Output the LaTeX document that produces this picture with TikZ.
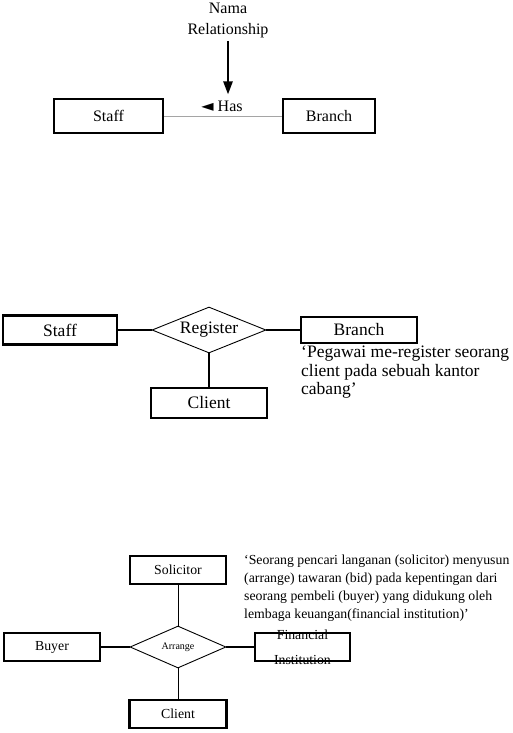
\documentclass[tikz,border=0pt]{standalone}
\usepackage{fontspec}
\setmainfont{Liberation Serif}
\newfontfamily\symfont{DejaVu Sans}
\usepackage{tikz}
\usetikzlibrary{arrows.meta, shapes.geometric}
\definecolor{linegray}{RGB}{165,165,165}
\tikzset{
  entity/.style={draw, line width=2.2pt, inner sep=0pt},
  relship/.style={draw, diamond, aspect=2.5, line width=0.9pt, inner sep=0pt},
  link/.style={line width=2.4pt},
  thinlink/.style={line width=1pt},
}

\begin{document}
\begin{tikzpicture}[x=1pt, y=-1pt]
  \useasboundingbox (0,0) rectangle (513,733);
  % Top: naming the relationship
  \begin{scope}[font=\fontsize{16}{21}\selectfont]
    \node[align=center] (nama) at (228,20) {Nama\\Relationship};
    \node[entity, minimum width=109pt, minimum height=34pt] (staffA) at (108.5,116) {Staff};
    \node[entity, minimum width=92pt, minimum height=34pt] (branchA) at (329,116) {Branch};
    \node[inner sep=1pt] (has) at (222,106) {{\symfont\fontsize{16}{16}\selectfont ◄} Has};
  \end{scope}
  \draw[linegray, line width=0.8pt] (staffA) -- (branchA);
  \draw[-{Triangle[length=13pt, width=9pt]}, line width=2.4pt, shorten >=5pt] (nama.south) -- (nama.south |- has.north);
  % Middle: Register
  \begin{scope}[font=\fontsize{17.5}{18.5}\selectfont]
    \node[entity, minimum width=114pt, minimum height=29pt] (staffB) at (60,330) {Staff};
    \node[relship, minimum width=114pt, minimum height=46pt] (register) at (209,330) {Register};
    \node[entity, minimum width=116pt, minimum height=26pt] (branchB) at (359,330) {Branch};
    \node[entity, minimum width=116pt, minimum height=30pt] (clientB) at (209,403) {Client};
    \node[anchor=north west, align=left, inner sep=0pt] (regNote) at (301,346)
      {‘Pegawai me-register seorang\\client pada sebuah kantor\\cabang’};
  \end{scope}
  \draw[link] (staffB) -- (register);
  \draw[link] (register) -- (branchB);
  \draw[link] (register) -- (clientB);
  % Bottom: Arrange
  \begin{scope}[font=\fontsize{13.8}{18}\selectfont]
    \node[entity, minimum width=96pt, minimum height=28pt] (solicitor) at (178,570) {Solicitor};
    \node[relship, minimum width=96pt, minimum height=42pt, font=\fontsize{10}{12}\selectfont] (arrange) at (178,647) {Arrange};
    \node[entity, minimum width=96pt, minimum height=28pt] (buyer) at (52,647) {Buyer};
    \node[entity, minimum width=95pt, minimum height=28pt,
      label={[align=center, font=\fontsize{13.8}{25}\selectfont]center:Financial\\Institution}] (finInst) at (302.5,647) {};
    \node[entity, minimum width=97pt, minimum height=28pt] (clientC) at (178,714) {Client};
    \node[anchor=north west, align=left, inner sep=0pt] (arrNote) at (244,555)
      {‘Seorang pencari langanan (solicitor) menyusun\\(arrange) tawaran (bid) pada kepentingan dari\\seorang pembeli (buyer) yang didukung oleh\\lembaga keuangan(financial institution)’};
  \end{scope}
  \draw[link] (buyer) -- (arrange);
  \draw[link] (arrange) -- (finInst);
  \draw[thinlink] (solicitor) -- (arrange);
  \draw[thinlink] (arrange) -- (clientC);
\end{tikzpicture}
\end{document}
